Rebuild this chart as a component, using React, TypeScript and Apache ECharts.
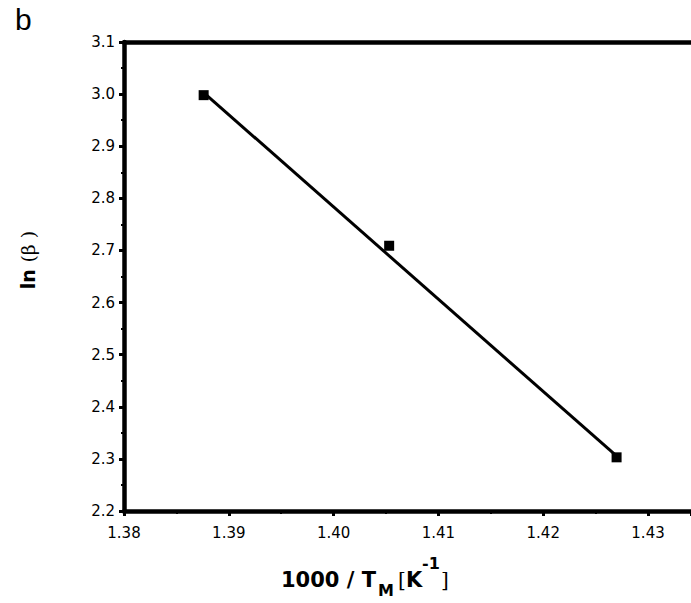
import React, { useEffect, useRef } from "react";
import * as echarts from "echarts";

const pointX = [1.3876, 1.4053, 1.4270];
const pointY = [2.998, 2.709, 2.303];
const fitX = [1.3876, 1.4268];
const fitY = [3.003, 2.309];
const xTicksMin = 1.38;
const xTicksMax = 1.4341;
const yTicksMin = 2.2;
const yTicksMax = 3.1;

export default function App() {
  const ref = useRef<HTMLDivElement>(null);
  useEffect(() => {
    if (!ref.current) return;
    const chart = echarts.init(ref.current, null, { renderer: "svg" });
    const sans = "DejaVu Sans";
    chart.setOption({
      animation: false,
      backgroundColor: "#ffffff",
      grid: { left: 124, top: 42, bottom: 92, right: 0, containLabel: false },
      xAxis: [
        {
          type: "value",
          min: xTicksMin,
          max: xTicksMax,
          interval: 0.01,
          position: "bottom",
          axisLine: { show: true, onZero: false, lineStyle: { color: "#000", width: 4.5 } },
          axisTick: { show: true, length: 5, lineStyle: { color: "#000", width: 3 } },
          minorTick: { show: true, splitNumber: 2, length: 3, lineStyle: { color: "#000", width: 2 } },
          splitLine: { show: false },
          axisLabel: {
            color: "#000",
            fontFamily: sans,
            fontSize: 15,
            margin: 14,
            showMaxLabel: false,
            formatter: (v: number) => v.toFixed(2),
          },
        },
        {
          type: "value",
          min: xTicksMin,
          max: xTicksMax,
          interval: 0.01,
          position: "top",
          axisLine: { show: true, onZero: false, lineStyle: { color: "#000", width: 4.5 } },
          axisTick: { show: false },
          splitLine: { show: false },
          axisLabel: { show: false },
        },
      ],
      yAxis: {
        type: "value",
        min: yTicksMin,
        max: yTicksMax,
        interval: 0.1,
        axisLine: { show: true, onZero: false, lineStyle: { color: "#000", width: 4.5 } },
        axisTick: { show: true, length: 5, lineStyle: { color: "#000", width: 3 } },
        minorTick: { show: true, splitNumber: 2, length: 3, lineStyle: { color: "#000", width: 2 } },
        splitLine: { show: false },
        axisLabel: {
          color: "#000",
          fontFamily: sans,
          fontSize: 15,
          margin: 9,
          formatter: (v: number) => v.toFixed(1),
        },
      },
      series: [
        {
          type: "line",
          data: fitX.map((x, i) => [x, fitY[i]]),
          showSymbol: false,
          symbol: "none",
          lineStyle: { color: "#000", width: 3 },
          z: 2,
        },
        {
          type: "scatter",
          data: pointX.map((x, i) => [x, pointY[i]]),
          symbol: "rect",
          symbolSize: 10,
          itemStyle: { color: "#000", opacity: 1 },
          z: 3,
        },
      ],
      graphic: [
        {
          type: "text",
          left: 15,
          top: 4,
          style: { text: "b", font: "30px 'Liberation Sans'", fill: "#000" },
        },
        {
          type: "text",
          x: 28,
          y: 260,
          rotation: Math.PI / 2,
          style: {
            text: "{a|ln}  {b|(β )}",
            align: "center",
            verticalAlign: "middle",
            rich: {
              a: { fontFamily: sans, fontWeight: "bold", fontSize: 19, fill: "#000" },
              b: { fontFamily: "DejaVu Serif", fontSize: 19, fill: "#000" },
            },
          },
        },
        {
          type: "text",
          x: 281,
          y: 580,
          style: {
            text: "1000 / T",
            font: "bold 21px 'DejaVu Sans'",
            fill: "#000",
            align: "left",
            verticalAlign: "middle",
          },
        },
        {
          type: "text",
          x: 378,
          y: 590,
          style: {
            text: "M",
            font: "bold 16px 'DejaVu Sans'",
            fill: "#000",
            align: "left",
            verticalAlign: "middle",
          },
        },
        {
          type: "text",
          x: 398,
          y: 580,
          style: {
            text: "[",
            font: "20px 'DejaVu Serif'",
            fill: "#000",
            align: "left",
            verticalAlign: "middle",
          },
        },
        {
          type: "text",
          x: 406,
          y: 580,
          style: {
            text: "K",
            font: "bold 21px 'DejaVu Sans'",
            fill: "#000",
            align: "left",
            verticalAlign: "middle",
          },
        },
        {
          type: "text",
          x: 422,
          y: 563,
          style: {
            text: "-1",
            font: "bold 16px 'DejaVu Sans'",
            fill: "#000",
            align: "left",
            verticalAlign: "middle",
          },
        },
        {
          type: "text",
          x: 441,
          y: 580,
          style: {
            text: "]",
            font: "20px 'DejaVu Serif'",
            fill: "#000",
            align: "left",
            verticalAlign: "middle",
          },
        },
      ],
    });
    return () => chart.dispose();
  }, []);
  return (
    <div
      ref={ref}
      style={{ position: "absolute", left: 0, top: 0, width: 691, height: 603, background: "#fff" }}
    />
  );
}
